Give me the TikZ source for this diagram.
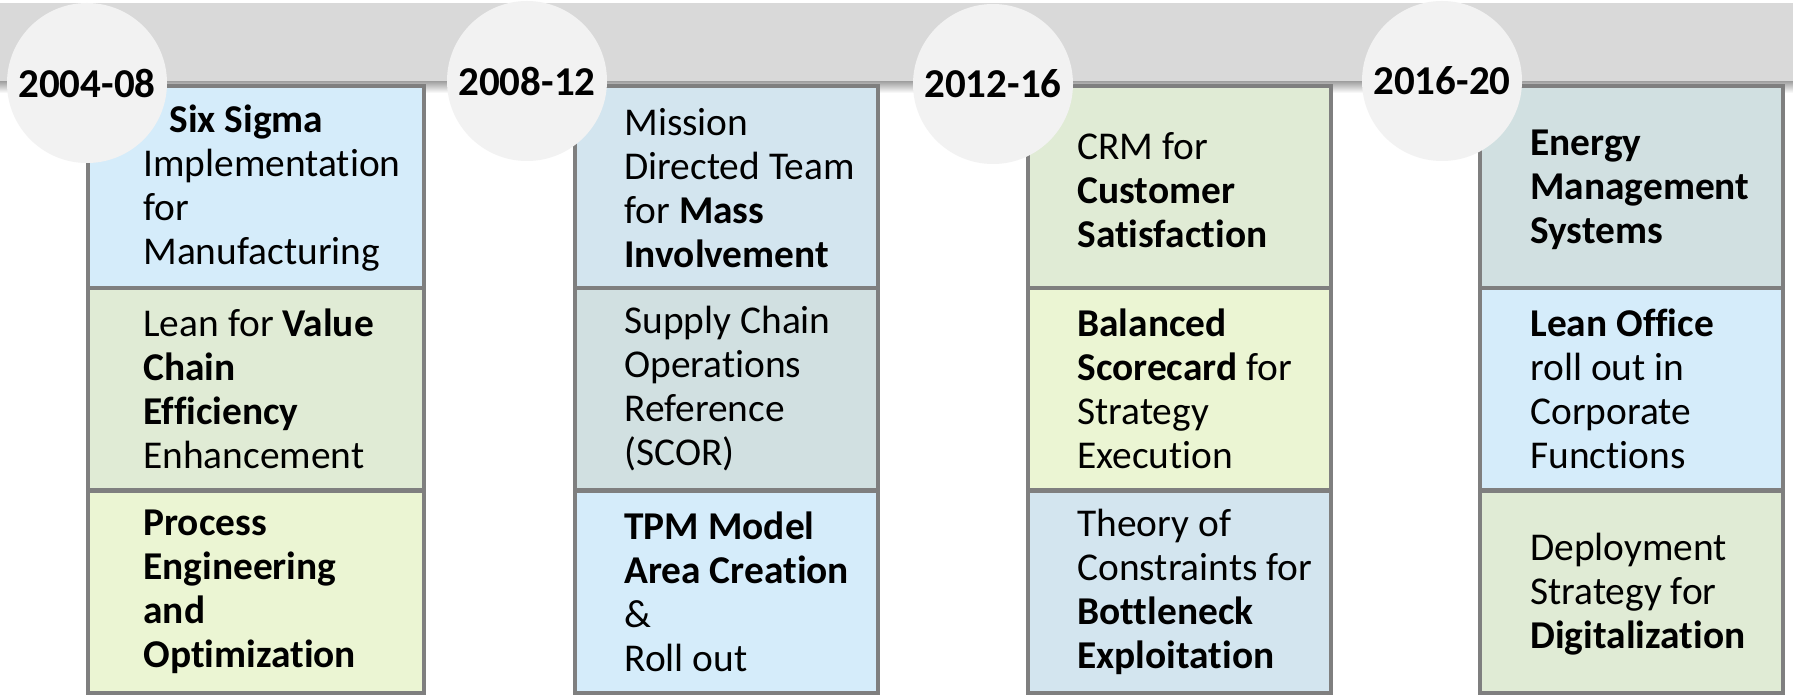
\documentclass[tikz,border=0pt]{standalone}
\usepackage{fontspec}
\setmainfont[Ligatures={NoCommon,NoContextual},Contextuals=NoAlternate,RawFeature={-dlig}]{Carlito}
\definecolor{bandgray}{HTML}{D9D9D9}
\definecolor{circfill}{HTML}{F2F2F2}
\definecolor{edgegray}{HTML}{7F7F7F}
\definecolor{cblue}{HTML}{D5ECFA}
\definecolor{cgblue}{HTML}{D3E5EF}
\definecolor{cteal}{HTML}{D1E0E1}
\definecolor{cgreen}{HTML}{E0EBD5}
\definecolor{cyellow}{HTML}{EBF5D3}
\begin{document}
\begin{tikzpicture}[x=0.5pt,y=-0.5pt,
  cell/.style={rectangle, draw=edgegray, line width=2pt, inner sep=0pt, outer sep=0pt, minimum height=101pt},
  wide/.style={minimum width=168pt},
  narrow/.style={minimum width=151.5pt},
  txt/.style={anchor=west, align=left, inner sep=0pt, font=\fontsize{19.7pt}{22pt}\selectfont},
  year/.style={circle, fill=circfill, minimum size=80pt, inner sep=0pt, font=\bfseries\fontsize{20.5pt}{24pt}\selectfont}
]
\useasboundingbox (0,0) rectangle (1793,700);
\fill[white] (0,0) rectangle (1793,700);
% band
\fill[bandgray] (0,3) rectangle (1793,82);
\shade[top color=black!35, bottom color=white] (0,82) rectangle (1793,93);

% column 1
\node[cell, wide, fill=cblue]   (c11) at (256,187) {};
\node[cell, wide, fill=cgreen]  (c12) at (256,389) {};
\node[cell, wide, fill=cyellow] (c13) at (256,591.5) {};
% column 2
\node[cell, narrow, fill=cgblue] (c21) at (726,187) {};
\node[cell, narrow, fill=cteal]  (c22) at (726,389) {};
\node[cell, narrow, fill=cblue]  (c23) at (726,591.5) {};
% column 3
\node[cell, narrow, fill=cgreen]  (c31) at (1179,187) {};
\node[cell, narrow, fill=cyellow] (c32) at (1179,389) {};
\node[cell, narrow, fill=cgblue]  (c33) at (1179,591.5) {};
% column 4
\node[cell, narrow, fill=cteal]  (c41) at (1631.5,187) {};
\node[cell, narrow, fill=cblue]  (c42) at (1631.5,389) {};
\node[cell, narrow, fill=cgreen] (c43) at (1631.5,591.5) {};

% texts
\node[txt] (t11) at (143,188) {\hspace*{13pt}\textbf{Six Sigma}\\Implementation\\for\\Manufacturing};
\node[txt] (t12) at (143,389) {Lean for \textbf{Value}\\\textbf{Chain}\\\textbf{Efficiency}\\Enhancement};
\node[txt] (t13) at (143,592) {\textbf{Process}\\\textbf{Engineering}\\\textbf{and}\\\textbf{Optimization}};
\node[txt] (t21) at (624,188) {Mission\\Directed Team\\for \textbf{Mass}\\\textbf{Involvement}};
\node[txt] (t22) at (624,389) {Supply Chain\\Operations\\Reference\\(SCOR)};
\node[txt] (t23) at (624,592) {\textbf{TPM Model}\\\textbf{Area Creation}\\\&\\Roll out};
\node[txt] (t31) at (1077,190) {CRM for\\\textbf{Customer}\\\textbf{Satisfaction}};
\node[txt] (t32) at (1077,389) {\textbf{Balanced}\\\textbf{Scorecard} for\\Strategy\\Execution};
\node[txt] (t33) at (1077,592) {Theory of\\Constraints for\\\textbf{Bottleneck}\\\textbf{Exploitation}};
\node[txt] (t41) at (1530,190) {\textbf{Energy}\\\textbf{Management}\\\textbf{Systems}};
\node[txt] (t42) at (1530,389) {\textbf{Lean Office}\\roll out in\\Corporate\\Functions};
\node[txt] (t43) at (1530,594) {Deployment\\Strategy for\\\textbf{Digitalization}};

% year circles
\node[year] (y1) at (87,83) {2004-08};
\node[year] (y2) at (527,81) {2008-12};
\node[year] (y3) at (993,84) {2012-16};
\node[year] (y4) at (1442,81) {2016-20};
\end{tikzpicture}
\end{document}
